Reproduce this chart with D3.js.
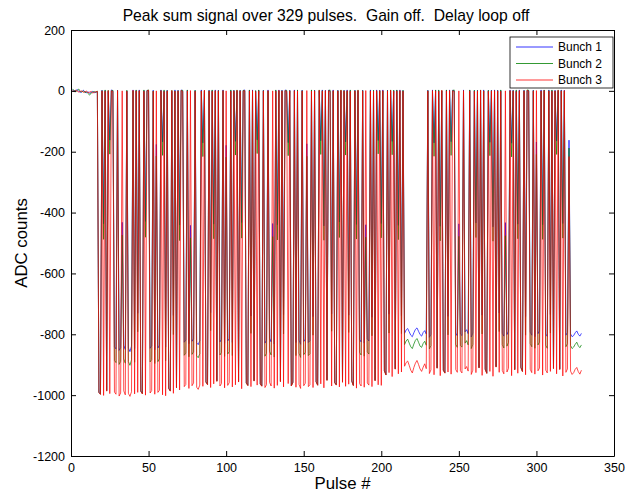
<!DOCTYPE html>
<html>
<head>
<meta charset="utf-8">
<script src="https://cdn.jsdelivr.net/npm/d3@7"></script>
<style>
  body { margin: 0; background: #fff; }
  svg { display: block; font-family: Arial, "Liberation Sans", sans-serif; }
</style>
</head>
<body>
<svg width="635" height="495"></svg>
<script>
"use strict";

// Peak sum per pulse, one value per pulse (1..329), ADC counts.
const bunch1 = [
    3, -2, 1, 4, -1, -5, -3, 2, -4, -6, -3, -8, -5, -2, -6, -4, -3,
    -990, -996, 2, -437, 1, -985, -1, -162, 3, 0, -841, -848, 2, -853, -844, -432, -836, -850, 0, -845, -857, -839, 3, -847, 1, -731,
    3, -986, -994, 1, -429, 2, 0, -846, -838, 2, -851, -176, -845, -836, 3, -168, 0, -842, 2, -977, -985, -1, -738, 3, -974, 2,
    -441, 3, 0, -826, -819, 2, -831, -442, -823, -815, 1, -828, -834, -821, 3, -171, 0, -956, -964, 2, -729, 1, -438, 3, -953, 2,
    -825, -817, 3, -830, -179, -822, -814, 1, -827, 2, -166, 0, -955, 2, -433, 1, 3, -959, -967, 2, -740, 3, -952, 0, -161, 2,
    -962, -969, 2, -829, -820, 3, -813, -825, -436, -832, 1, -440, 3, -954, 2, -736, 3, 0, -170, 2, -968, -957, 3, -827, 2, -819,
    -833, 2, -824, -816, -174, -827, -821, 1, -742, 2, -955, -966, 0, -164, 3, -444, 2, -950, 2, 0, -733, 3, -958, -965, 2, -431,
    0, -956, 2, -168, 3, -737, 1, -953, -967, 2, -439, 0, -817, -825, 2, -829, -440, -815, -822, 3, -744, 1, -951, 3, -163, 2,
    -436, 3, -919, -932, 2, -734, 0, -166, 1, -913, 2, -442, 3, -739, 1, -797, -786, -781, -792, -803, -808, -795, -784, -779, -790, -801,
    -806, -794, -788, -799, 2, -810, -800, 3, -171, 2, -910, 1, -445, 0, -917, -926, 2, -741, 3, -167, 2, 0, -796, -805, -437, -799,
    -804, 3, -792, -785, -798, 2, -809, -796, 1, -434, 2, -909, 0, -737, 3, -914, -927, 1, -169, 2, -447, 3, -906, 2, -730, 1,
    -797, -806, -433, -801, -790, 3, -172, 2, -915, 0, -438, 3, -908, -921, 2, -742, 0, 1, -793, -803, 2, -808, -168, -798, -789, 3,
    -440, 2, -799, -807, 3, -735, 1, -911, 2, -165, 0, -914, 3, -436, 2, -803, -794, -162, -799, -808, -804, -795, -789, -800, -806, -797
];

const bunch2 = [
    5, 2, -3, 1, 6, -2, -4, 0, -6, -3, -9, -14, -7, -4, -2, -5, -1,
    -991, -997, 1, -488, 3, -986, 2, -208, 0, 2, -886, -893, 1, -899, -889, -474, -881, -895, 2, -890, -902, -884, 0, -892, 3, -792,
    0, -987, -995, 3, -481, 1, 3, -891, -883, 0, -896, -214, -890, -881, 1, -212, 3, -887, 1, -978, -986, 2, -801, 0, -975, 1,
    -492, 1, 2, -869, -862, 3, -874, -483, -866, -858, 2, -871, -877, -864, 0, -216, 1, -957, -965, 1, -788, 3, -486, 0, -954, 1,
    -868, -860, 1, -873, -218, -865, -857, 3, -870, 1, -211, 3, -956, 1, -484, 2, 0, -960, -968, 3, -797, 0, -953, 1, -206, 3,
    -963, -970, 1, -872, -863, 0, -856, -868, -479, -875, 3, -490, 0, -955, 1, -799, 0, 2, -213, 1, -969, -958, 0, -870, 3, -862,
    -876, 1, -867, -859, -215, -870, -864, 3, -803, 1, -956, -967, 3, -209, 1, -491, 0, -951, 1, 3, -790, 0, -959, -966, 1, -482,
    3, -957, 1, -211, 0, -794, 3, -954, -968, 1, -487, 3, -860, -868, 1, -872, -481, -858, -865, 0, -805, 2, -952, 0, -207, 1,
    -483, 0, -920, -933, 1, -796, 3, -210, 2, -914, 3, -489, 0, -798, 2, -834, -822, -816, -829, -841, -847, -832, -820, -814, -826, -839,
    -843, -830, -823, -836, 1, -848, -837, 0, -215, 3, -911, 3, -493, 1, -918, -927, 3, -802, 0, -212, 1, 3, -833, -843, -478, -837,
    -842, 0, -829, -821, -835, 3, -847, -833, 2, -482, 1, -910, 3, -799, 0, -915, -928, 2, -213, 1, -494, 0, -907, 1, -791, 3,
    -834, -845, -476, -839, -827, 0, -217, 1, -916, 3, -486, 0, -909, -922, 1, -803, 3, 2, -830, -841, 1, -846, -209, -835, -826, 0,
    -488, 3, -836, -846, 1, -796, 3, -912, 0, -209, 3, -915, 1, -484, 0, -841, -831, -188, -837, -847, -842, -833, -826, -838, -844, -835
];

const bunch3 = [
    1, -3, 2, -1, -4, -2, 0, -5, -3, -1, -6, -4, -2, -7, -5, -3, -2,
    -992, -998, 0, -1001, -1, -987, 1, -995, 0, -2, -990, -997, 1, -1003, -993, 0, -986, -999, -1, -994, -1004, -989, 2, -996, 0, -991,
    1, -988, -996, -1, -1000, 0, 2, -993, -985, -1, -997, 0, -991, -984, 1, -999, -2, -1002, 0, -979, -987, 1, -994, -1, -976, 0,
    -983, 1, -2, -972, -965, 0, -978, 1, -969, -960, -1, -974, -981, -967, 0, -971, 2, -958, -966, 0, -975, -1, -963, 1, -955, 0,
    -970, -962, 1, -976, 0, -968, -959, -1, -973, 0, -966, 2, -957, 0, -979, -1, 1, -961, -969, 0, -972, 1, -954, -2, -967, 0,
    -964, -971, 0, -975, -966, 1, -958, -970, 0, -977, -1, -968, 2, -956, 0, -973, 1, -2, -962, 0, -970, -959, 1, -974, 0, -965,
    -978, 0, -969, -961, 1, -972, -966, -1, -975, 0, -957, -968, 2, -963, 0, -976, 1, -952, 0, -2, -970, 1, -960, -967, 0, -973,
    2, -958, 0, -971, 1, -964, -1, -955, -969, 0, -977, 2, -962, -970, 0, -974, 1, -960, -967, 0, -972, -1, -953, 1, -966, 0,
    -968, 1, -921, -934, 0, -926, 2, -939, -1, -915, 0, -930, 1, -924, -1, -905, -893, -888, -902, -918, -927, -909, -895, -886, -899, -914,
    -922, -908, -897, -913, 0, -929, -917, 1, -933, 0, -912, -1, -936, 2, -919, -928, 0, -924, 1, -931, 0, -2, -916, -925, 0, -920,
    -927, 1, -914, -906, -921, 0, -932, -918, -1, -926, 0, -911, 2, -935, 0, -916, -929, -1, -922, 0, -938, 1, -908, 0, -925, -1,
    -919, -930, 0, -924, -912, 1, -936, 0, -917, -2, -928, 1, -910, -923, 0, -933, 2, -1, -915, -926, 0, -931, 1, -920, -911, 0,
    -934, 1, -918, -927, 0, -922, -1, -913, 0, -930, 2, -916, 0, -937, 1, -925, -914, -216, -921, -932, -926, -915, -909, -923, -931, -918
];

const seriesNames = ["Bunch 1", "Bunch 2", "Bunch 3"];
const seriesColors = ["#0000ff", "#008000", "#ff0000"];
const xTicks = [0, 50, 100, 150, 200, 250, 300, 350];
const yTicks = [200, 0, -200, -400, -600, -800, -1000, -1200];

const svg = d3.select("svg");
const plotLeft = 71, plotRight = 614, plotTop = 30, plotBottom = 456;

const xScale = d3.scaleLinear().domain([0, 350]).range([plotLeft, plotRight]);
const yScale = d3.scaleLinear().domain([-1200, 200]).range([plotBottom, plotTop]);

svg.append("rect")
    .attr("x", 0).attr("y", 0)
    .attr("width", 635).attr("height", 495)
    .attr("fill", "#fff");

// data lines, drawn in MATLAB order so red ends on top
const line = d3.line()
    .x((d, i) => xScale(i + 1))
    .y(d => yScale(d));

[bunch1, bunch2, bunch3].forEach((values, k) => {
    svg.append("path")
        .datum(values)
        .attr("d", line)
        .attr("fill", "none")
        .attr("stroke", seriesColors[k])
        .attr("stroke-width", 0.7);
});

// axes with inward ticks, box all round
const plainNum = d => String(d);

function styleAxis(g) {
    g.select(".domain").attr("stroke", "#000");
    g.selectAll(".tick line").attr("stroke", "#000");
    g.selectAll(".tick text").attr("fill", "#000").attr("font-size", 12.5)
        .attr("font-family", "Arial, 'Liberation Sans', sans-serif");
}

svg.append("g")
    .attr("transform", `translate(0, ${plotBottom})`)
    .call(d3.axisBottom(xScale).tickValues(xTicks).tickFormat(plainNum).tickSize(-5).tickPadding(7).tickSizeOuter(0))
    .call(styleAxis);

svg.append("g")
    .attr("transform", `translate(0, ${plotTop})`)
    .call(d3.axisTop(xScale).tickValues(xTicks).tickSize(-5).tickFormat("").tickSizeOuter(0))
    .call(styleAxis);

svg.append("g")
    .attr("transform", `translate(${plotLeft}, 0)`)
    .call(d3.axisLeft(yScale).tickValues(yTicks).tickFormat(plainNum).tickSize(-5).tickPadding(6).tickSizeOuter(0))
    .call(styleAxis);

svg.append("g")
    .attr("transform", `translate(${plotRight}, 0)`)
    .call(d3.axisRight(yScale).tickValues(yTicks).tickSize(-5).tickFormat("").tickSizeOuter(0))
    .call(styleAxis);

// legend
const legend = svg.append("g");
legend.append("rect")
    .attr("x", 510).attr("y", 37)
    .attr("width", 103).attr("height", 51)
    .attr("fill", "#fff")
    .attr("stroke", "#000")
    .attr("stroke-width", 0.8);

seriesNames.forEach((name, k) => {
    const y = 47 + k * 16.5;
    legend.append("line")
        .attr("x1", 516).attr("x2", 553)
        .attr("y1", y).attr("y2", y)
        .attr("stroke", seriesColors[k])
        .attr("stroke-width", 0.8);
    legend.append("text")
        .attr("x", 558).attr("y", y)
        .attr("dy", "0.35em")
        .attr("font-size", 12)
        .text(name);
});

// titles
svg.append("text")
    .attr("x", 326).attr("y", 21)
    .attr("text-anchor", "middle")
    .attr("font-size", 15.7)
    .style("white-space", "pre")
    .text("Peak sum signal over 329 pulses.  Gain off.  Delay loop off");

svg.append("text")
    .attr("x", (plotLeft + plotRight) / 2).attr("y", 489)
    .attr("text-anchor", "middle")
    .attr("font-size", 16.8)
    .text("Pulse #");

svg.append("text")
    .attr("transform", `translate(27, ${(plotTop + plotBottom) / 2}) rotate(-90)`)
    .attr("text-anchor", "middle")
    .attr("font-size", 16.8)
    .text("ADC counts");
</script>
</body>
</html>
